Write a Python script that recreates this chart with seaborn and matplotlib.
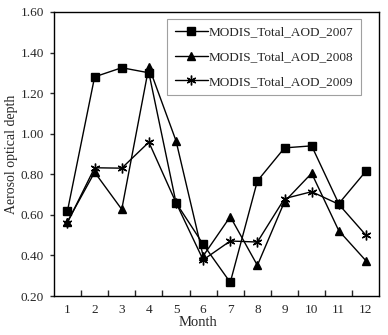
import matplotlib
matplotlib.use("Agg")
import matplotlib.pyplot as plt
import seaborn as sns
import pandas as pd
import numpy as np
from matplotlib.ticker import FixedLocator

months = list(range(1, 13))
aod_2007 = [0.62, 1.28, 1.325, 1.30, 0.66, 0.455, 0.267, 0.767, 0.93, 0.94, 0.655, 0.815]
aod_2008 = [0.567, 0.81, 0.627, 1.33, 0.965, 0.397, 0.591, 0.351, 0.665, 0.805, 0.522, 0.374]
aod_2009 = [0.562, 0.832, 0.83, 0.958, 0.66, 0.378, 0.471, 0.466, 0.68, 0.714, 0.652, 0.50]
series_names = ["MODIS_Total_AOD_2007", "MODIS_Total_AOD_2008", "MODIS_Total_AOD_2009"]
y_ticks = [0.20, 0.40, 0.60, 0.80, 1.00, 1.20, 1.40, 1.60]
markers = ["s", "^", (6, 2, 0)]

sns.set_style("ticks")
plt.rcParams["font.family"] = ["Liberation Serif", "DejaVu Serif"]

fig = plt.figure(figsize=(3.88, 3.35), dpi=100)
ax = fig.add_axes([0.139, 0.1164, 0.839, 0.848])

for name, vals, mk in zip(series_names, [aod_2007, aod_2008, aod_2009], markers):
    d = pd.DataFrame({"Month": months, "AOD": vals})
    sns.lineplot(data=d, x="Month", y="AOD", color="black", marker=mk,
                 markersize=5.5 if mk != (6, 2, 0) else 7, linewidth=1.0,
                 markeredgecolor="black", markeredgewidth=1.0, label=name, ax=ax)

ax.set_xlim(0.5, 12.5)
ax.set_ylim(0.2, 1.6)
ax.set_xticks(months)
ax.set_xticklabels([str(m) for m in months])
ax.xaxis.set_minor_locator(FixedLocator(np.arange(1.5, 12, 1.0)))
ax.tick_params(axis="x", which="major", length=0, labelsize=9.5, pad=6)
ax.tick_params(axis="x", which="minor", direction="in", length=4, width=1)
ax.set_yticks(y_ticks)
ax.set_yticklabels([f"{v:.2f}" for v in y_ticks])
ax.tick_params(axis="y", direction="out", length=3, width=1, labelsize=9.5, pad=4)
for s in ax.spines.values():
    s.set_visible(True)
    s.set_color("black")
    s.set_linewidth(1.0)
ax.set_xlabel("Month", fontsize=10.5)
ax.xaxis.set_label_coords(0.443, -0.072)
ax.set_ylabel("Aerosol optical depth", fontsize=10, labelpad=2)

leg = ax.legend(loc="upper right", bbox_to_anchor=(0.943, 0.975), fontsize=9.5,
                frameon=True, fancybox=False, edgecolor="#888888",
                handlelength=2.5, handletextpad=0.1, borderpad=0.55,
                labelspacing=0.95, borderaxespad=0)
leg.get_frame().set_linewidth(0.8)

fig.savefig("out.png", dpi=100)
